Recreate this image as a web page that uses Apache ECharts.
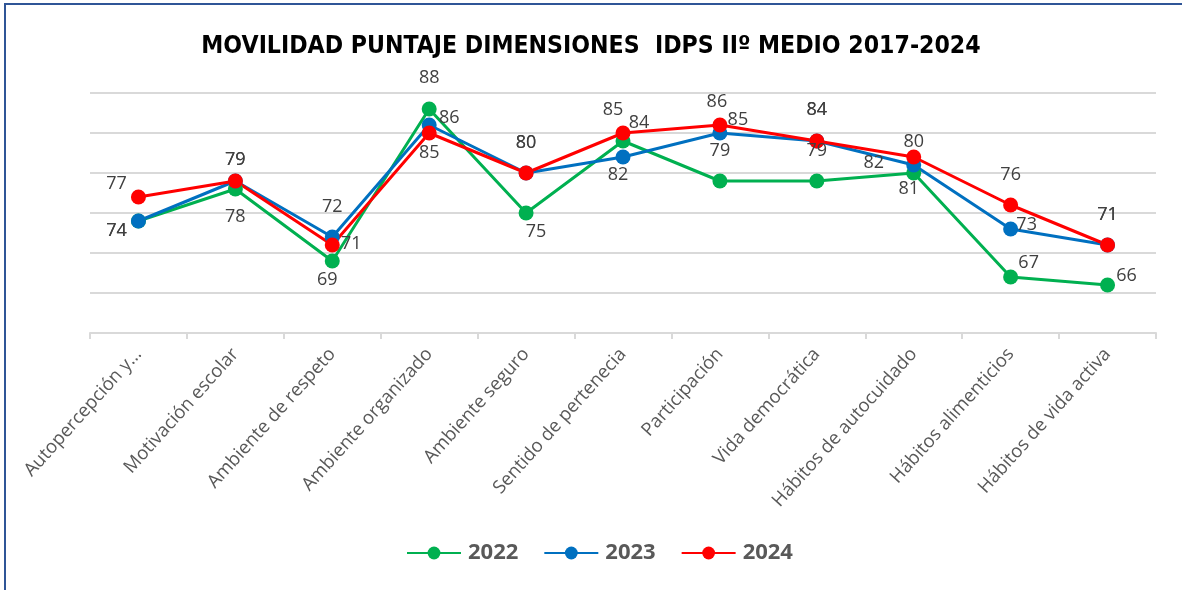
<!DOCTYPE html>
<html>
<head>
<meta charset="utf-8">
<script src="https://cdn.jsdelivr.net/npm/echarts@6/dist/echarts.min.js"></script>
<style>
    html, body { margin: 0; padding: 0; background: #fff; }
    #frame {
        position: absolute; left: 4px; top: 3px; width: 1178px; height: 587px;
        border-left: 2px solid #2F5597; border-top: 2px solid #2F5597;
        box-sizing: border-box;
    }
    #chart { position: absolute; left: 0; top: 0; width: 1182px; height: 590px; }
</style>
</head>
<body>
<div id="chart"></div>
<div id="frame"></div>
<script>
    // datos
    const categories = ['Autopercepción y autovaloración académica', 'Motivación escolar', 'Ambiente de respeto',
        'Ambiente organizado', 'Ambiente seguro', 'Sentido de pertenecia', 'Participación',
        'Vida democrática', 'Hábitos de autocuidado', 'Hábitos alimenticios', 'Hábitos de vida activa']
    const years = ['2022', '2023', '2024']
    const values2022 = [74, 78, 69, 88, 75, 84, 79, 79, 80, 67, 66]
    const values2023 = [74, 79, 72, 86, 80, 82, 85, 84, 81, 73, 71]
    const values2024 = [77, 79, 71, 85, 80, 85, 86, 84, 82, 76, 71]

    // desplazamiento de etiquetas (como en el gráfico original)
    const off2022 = [[-22, 10], [0, 28], [-5, 19], [0, -31], [10, 19], [16, -18], [0, -30], [0, -30], [0, -31], [18, -14], [19, -9]]
    const off2023 = [[-22, 10], [0, -21], [0, -30], [20, -7], [0, -30], [-5, 18], [18, -13], [0, -31], [-5, 24], [16, -4], [0, -30]]
    const off2024 = [[-22, -13], [0, -21], [19, -1], [0, 20], [0, -30], [-10, -23], [-3, -23], [0, -31], [-40, 6], [0, -30], [0, -30]]

    const colors = ['#00B050', '#0070C0', '#FF0000']

    function buildData(vals, offs) {
        return vals.map((v, i) => ({ value: v, label: { offset: offs[i] } }))
    }

    function makeSeries(name, vals, offs, color) {
        return {
            name: name,
            type: 'line',
            data: buildData(vals, offs),
            symbol: 'circle',
            symbolSize: 15,
            lineStyle: { color: color, width: 3 },
            itemStyle: { color: color },
            label: {
                show: true,
                position: 'inside',
                color: '#404040',
                fontSize: 18,
                fontFamily: 'Open Sans'
            },
            animation: false
        }
    }

    let mychart = echarts.init(document.getElementById('chart'))
    let option = {
        title: {
            text: 'MOVILIDAD PUNTAJE DIMENSIONES  IDPS IIº MEDIO 2017-2024',
            left: 'center',
            top: 29,
            textStyle: {
                fontFamily: 'DejaVu Sans Condensed, Liberation Sans',
                fontWeight: 'bold',
                fontSize: 24.6,
                color: '#000'
            }
        },
        legend: {
            bottom: 21,
            left: 401,
            itemWidth: 54,
            itemHeight: 16,
            itemGap: 25,
            textStyle: {
                fontFamily: 'Open Sans',
                fontWeight: 'bold',
                fontSize: 22,
                color: '#595959',
                padding: [0, 0, 0, 2]
            },
            data: years
        },
        grid: {
            left: 90,
            right: 26,
            top: 93,
            bottom: 257
        },
        xAxis: {
            type: 'category',
            data: categories,
            boundaryGap: true,
            axisLine: { lineStyle: { color: '#D9D9D9', width: 2 } },
            axisTick: { show: true, length: 6, lineStyle: { color: '#D9D9D9', width: 2 } },
            axisLabel: {
                rotate: 48,
                interval: 0,
                color: '#595959',
                fontSize: 18.5,
                fontFamily: 'Open Sans',
                margin: 18,
                width: 400,
                overflow: 'none',
                formatter: function (v) {
                    return v.length > 22 ? v.slice(0, 16) + '...' : v
                }
            }
        },
        yAxis: {
            type: 'value',
            min: 60,
            max: 90,
            interval: 5,
            axisLabel: { show: false },
            axisLine: { show: false },
            axisTick: { show: false },
            splitLine: { lineStyle: { color: '#D9D9D9', width: 2 } }
        },
        series: [
            makeSeries(years[0], values2022, off2022, colors[0]),
            makeSeries(years[1], values2023, off2023, colors[1]),
            makeSeries(years[2], values2024, off2024, colors[2])
        ]
    }
    mychart.setOption(option)
</script>
</body>
</html>
